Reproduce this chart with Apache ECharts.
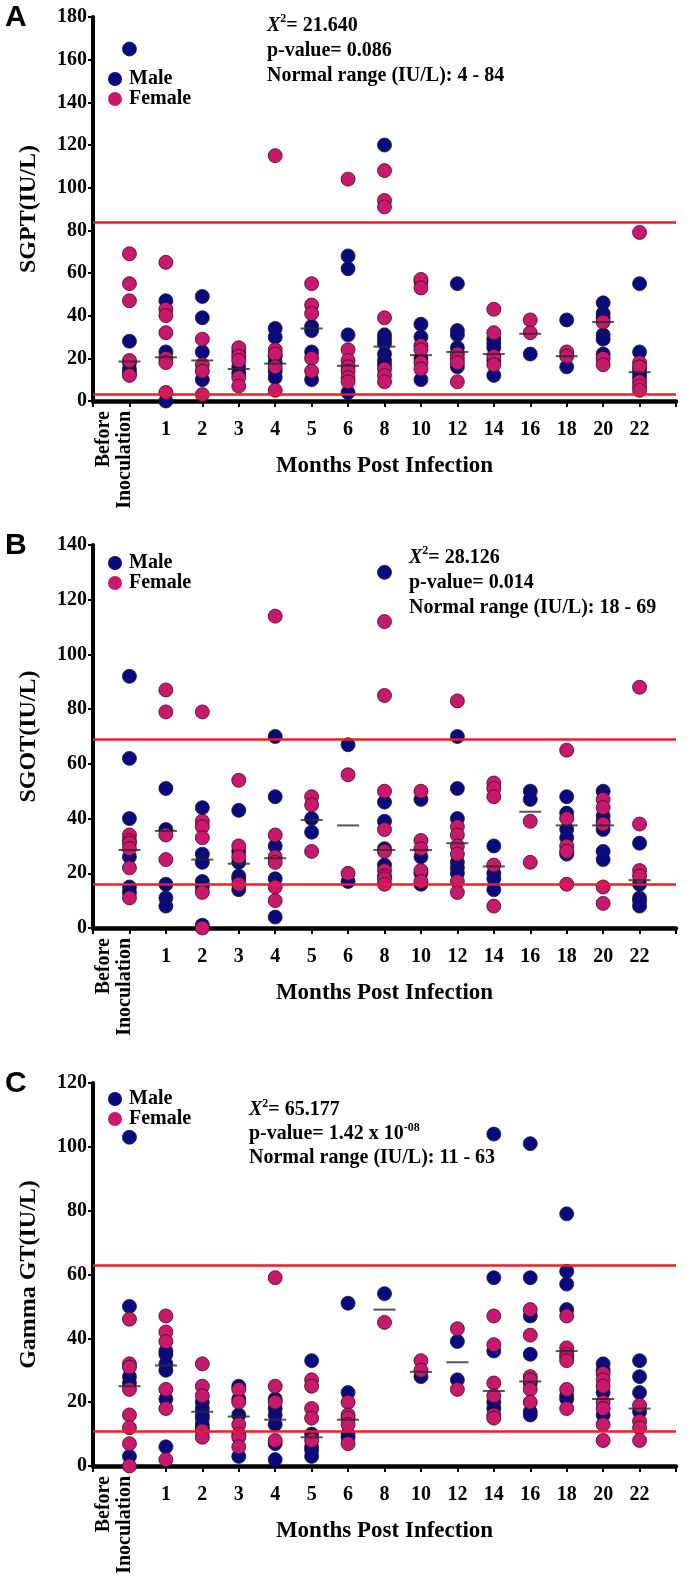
<!DOCTYPE html>
<html><head><meta charset="utf-8">
<script src="https://cdn.jsdelivr.net/npm/echarts@6/dist/echarts.min.js"></script>
<style>html,body{margin:0;padding:0;background:#fff}#c{width:690px;height:1583px}</style>
</head><body><div id="c"></div>
<script>
const categories = ['Before Inoculation','1','2','3','4','5','6','8','10','12','14','16','18','20','22'];

// Panel A: SGPT
const sgptMale = [[165,28,18,15,13],[47,23,0],[49,39,23,10],[23,16,13],[34,30,21,18,14,11],[35,33,23,10],[68,62,31,4],[120,31,29,27,22,19,17],[56,36,30,20,10],[55,33,31,25,16],[29,27,25,19,12],[22],[38,16],[46,41,39,31,29,22],[55,23,15,13,11]];
const sgptFemale = [[69,55,47,19,12],[65,43,40,32,20,18,4],[29,17,14,3],[25,21,19,11,7],[115,24,22,16,5],[55,45,41,20,14],[104,24,19,16,14,11,9],[108,94,91,39,15,12,9],[57,53,26,24,18,15],[22,20,18,9],[43,32,21,17],[38,32],[23,21],[37,20,17],[79,18,16,9,7,5]];
const sgptCenter = [18.5,20.5,19,15,17.5,34,16.5,25.5,21.5,23,22,31.5,21,37,13.5];
const sgptRange = [3,84];

// Panel B: SGOT
const sgotMale = [[92,62,40,26,15,13],[51,36,16,11,8],[44,27,24,17,15,1],[43,28,24,19,18,14],[70,48,30,18,4],[40,35],[67,17],[130,46,39,29,23],[47,26,20,16],[70,51,40,24,22,20],[30,20,18,14],[50,47],[48,42,36,33,27],[50,41,39,36,28,25],[31,16,11,10,8]];
const sgotFemale = [[34,32,31,29,22,11],[87,79,34,25],[79,39,37,33,13,0],[54,30,26,16],[114,34,26,24,15,10],[48,45,28],[56,20],[112,85,50,36,28,21,19,18,16],[50,32,29,21,17],[83,37,34,30,27,17,13],[53,51,48,23,8],[39,24],[65,40,30,28,16],[47,44,38,15,9],[88,38,21,19]];
const sgotCenter = [28.5,35.5,25,23.5,25.5,39.5,37.5,28.5,28.5,31,22.5,42.5,37.5,37.5,17.5];
const sgotRange = [16,69];

// Panel C: Gamma GT
const ggtMale = [[103,50,28,26,3],[36,35,32,30,21,6],[20,18,16,15,13,12],[25,21,16,3],[21,18,16,13,7,2],[33,10,6,5,3],[51,23,10,9],[54],[28],[39,27],[104,59,36,20,18],[101,59,47,35,26,17,16],[79,61,57,49,22,21],[32,30,23,16],[33,28,23,17]];
const ggtFemale = [[46,32,31,24,16,12,7,0],[47,42,39,24,18,2],[32,25,22,11,9],[24,20,13,10,9,6],[59,25,20,8],[27,25,18,15,8],[20,16,15,13,7],[45],[33,30],[43,24],[47,38,26,22,16,15],[49,41,28,27,24,20],[47,37,35,34,33,24,18],[29,27,25,20,18,13,8],[19,14,12,8]];
const ggtCenter = [25,31.5,17,15.5,14.5,9,14.5,49,29.5,32.5,23.5,26.5,36,21,18];
const ggtRange = [11,63];

const yTicksMax = [180,140,120];
const yNames = ['SGPT(IU/L)','SGOT(IU/L)','Gamma GT(IU/L)'];
const panelLetters = ['A','B','C'];

const SERIF = '"Liberation Serif","Times New Roman",serif';
const MALE = '#0a0a80';
const FEMALE = '#c8196c';

const panels = [
  {male:sgptMale, female:sgptFemale, center:sgptCenter, range:sgptRange, top:17, height:384, legendTop:64},
  {male:sgotMale, female:sgotFemale, center:sgotCenter, range:sgotRange, top:545, height:383, legendTop:548},
  {male:ggtMale, female:ggtFemale, center:ggtCenter, range:ggtRange, top:1083, height:383, legendTop:1084}
];

const axisCats = [''].concat(categories, ['']);
const grid=[], xAxis=[], yAxis=[], series=[], legend=[];
const bold = {fontFamily:SERIF, fontWeight:'bold', color:'#000'};

function flat(groups){
  const out=[];
  groups.forEach((vals,i)=>vals.forEach(v=>out.push([categories[i], v])));
  return out;
}

panels.forEach((p,k)=>{
  grid.push({left:93, width:583, top:p.top, height:p.height});
  xAxis.push({
    gridIndex:k, type:'category', data:axisCats, boundaryGap:false, position:'bottom',
    axisLine:{show:true, onZero:false, lineStyle:{color:'#000', width:4.5}},
    axisTick:{show:true, interval:0, length:6, lineStyle:{color:'#000', width:2}},
    splitLine:{show:false},
    axisLabel:Object.assign({interval:0, margin:19, fontSize:20,
      formatter:v=> v==='Before Inoculation' ? '' : v}, bold),
    name:'Months Post Infection', nameLocation:'middle', nameGap:54,
    nameTextStyle:Object.assign({fontSize:23}, bold)
  });
  xAxis.push({
    gridIndex:k, type:'category', data:axisCats, boundaryGap:false, position:'bottom',
    axisLine:{show:false}, axisTick:{show:false}, splitLine:{show:false},
    axisLabel:Object.assign({interval:0, rotate:90, margin:10, fontSize:20, lineHeight:21,
      rich:{a:{fontFamily:SERIF, fontWeight:'bold', fontSize:20, lineHeight:21, color:'#000'},
            g:{fontSize:10, lineHeight:30}},
      formatter:v=> v==='Before Inoculation' ? '{a|Before}\n{a|Inoculation}\n{g| }' : ''}, bold)
  });
  yAxis.push({
    gridIndex:k, type:'value', min:0, max:yTicksMax[k], interval:20,
    axisLine:{show:true, lineStyle:{color:'#000', width:4}},
    axisTick:{show:true, length:5, lineStyle:{color:'#000', width:2}},
    splitLine:{show:false},
    axisLabel:Object.assign({margin:6, fontSize:20}, bold),
    name:yNames[k], nameLocation:'middle', nameGap:52,
    nameTextStyle:Object.assign({fontSize:24}, bold)
  });
  const xi = k*2;
  series.push({
    name:'Male', type:'scatter', xAxisIndex:xi, yAxisIndex:k, data:flat(p.male),
    symbol:'circle', symbolSize:14, z:2,
    itemStyle:{color:MALE, borderColor:'#1a1a3a', borderWidth:0.8, opacity:1},
    emphasis:{disabled:true}
  });
  series.push({
    name:'Female', type:'scatter', xAxisIndex:xi, yAxisIndex:k, data:flat(p.female),
    symbol:'circle', symbolSize:14, z:3,
    itemStyle:{color:FEMALE, borderColor:'#3a0a20', borderWidth:0.8, opacity:1},
    emphasis:{disabled:true}
  });
  series.push({
    name:'center', type:'scatter', xAxisIndex:xi, yAxisIndex:k,
    data:p.center.map((v,i)=>[categories[i], v]),
    symbol:'rect', symbolSize:[22,2], z:4,
    itemStyle:{color:'#2a2a2a'}, emphasis:{disabled:true}, silent:true,
    markLine:{silent:true, symbol:'none', label:{show:false}, animation:false,
      lineStyle:{color:'#ee1c24', width:2.5, type:'solid'},
      emphasis:{disabled:true},
      data:p.range.map(v=>({yAxis:v}))}
  });
  legend.push({
    data:['Male','Female'], orient:'vertical', left:103, top:p.legendTop,
    itemWidth:14, itemHeight:14, itemGap:0, icon:'circle', selectedMode:false,
    itemStyle:{borderWidth:0},
    textStyle:Object.assign({fontSize:20, lineHeight:20, padding:[0,0,0,2]}, bold)
  });
});

const annStyle = {
  b:{fontFamily:SERIF, fontWeight:'bold', fontSize:20, fill:'#000'},
  i:{fontFamily:SERIF, fontWeight:'bold', fontStyle:'italic', fontSize:20, fill:'#000'},
  s:{fontFamily:SERIF, fontWeight:'bold', fontSize:12, fill:'#000', verticalAlign:'top'}
};
function ann(left, top, lines, lh){
  const rich = JSON.parse(JSON.stringify(annStyle));
  Object.keys(rich).forEach(key=>rich[key].lineHeight=lh);
  return {type:'text', left:left, top:top, silent:true,
    style:{text:lines.join('\n'), rich:rich, fill:'#000'}};
}
const letterFont = 'bold 30px "Liberation Sans", Arial, sans-serif';
const graphic = [
  {type:'text', left:5, top:3, style:{text:panelLetters[0], font:letterFont, fill:'#000'}},
  {type:'text', left:5, top:531, style:{text:panelLetters[1], font:letterFont, fill:'#000'}},
  {type:'text', left:5, top:1069, style:{text:panelLetters[2], font:letterFont, fill:'#000'}},
  ann(267, 13, ['{i|X}{s|2}{b|= 21.640}','{b|p-value= 0.086}','{b|Normal range (IU/L): 4 - 84}'], 25),
  ann(409, 545, ['{i|X}{s|2}{b|= 28.126}','{b|p-value= 0.014}','{b|Normal range (IU/L): 18 - 69}'], 25),
  ann(249, 1098, ['{i|X}{s|2}{b|= 65.177}','{b|p-value= 1.42 x 10}{s|-08}','{b|Normal range (IU/L): 11 - 63}'], 24)
];

const chart = echarts.init(document.getElementById('c'), null, {renderer:'canvas'});
chart.setOption({
  animation:false, backgroundColor:'#fff',
  grid:grid, xAxis:xAxis, yAxis:yAxis, series:series, legend:legend, graphic:graphic,
  tooltip:{show:false}
});
</script></body></html>
